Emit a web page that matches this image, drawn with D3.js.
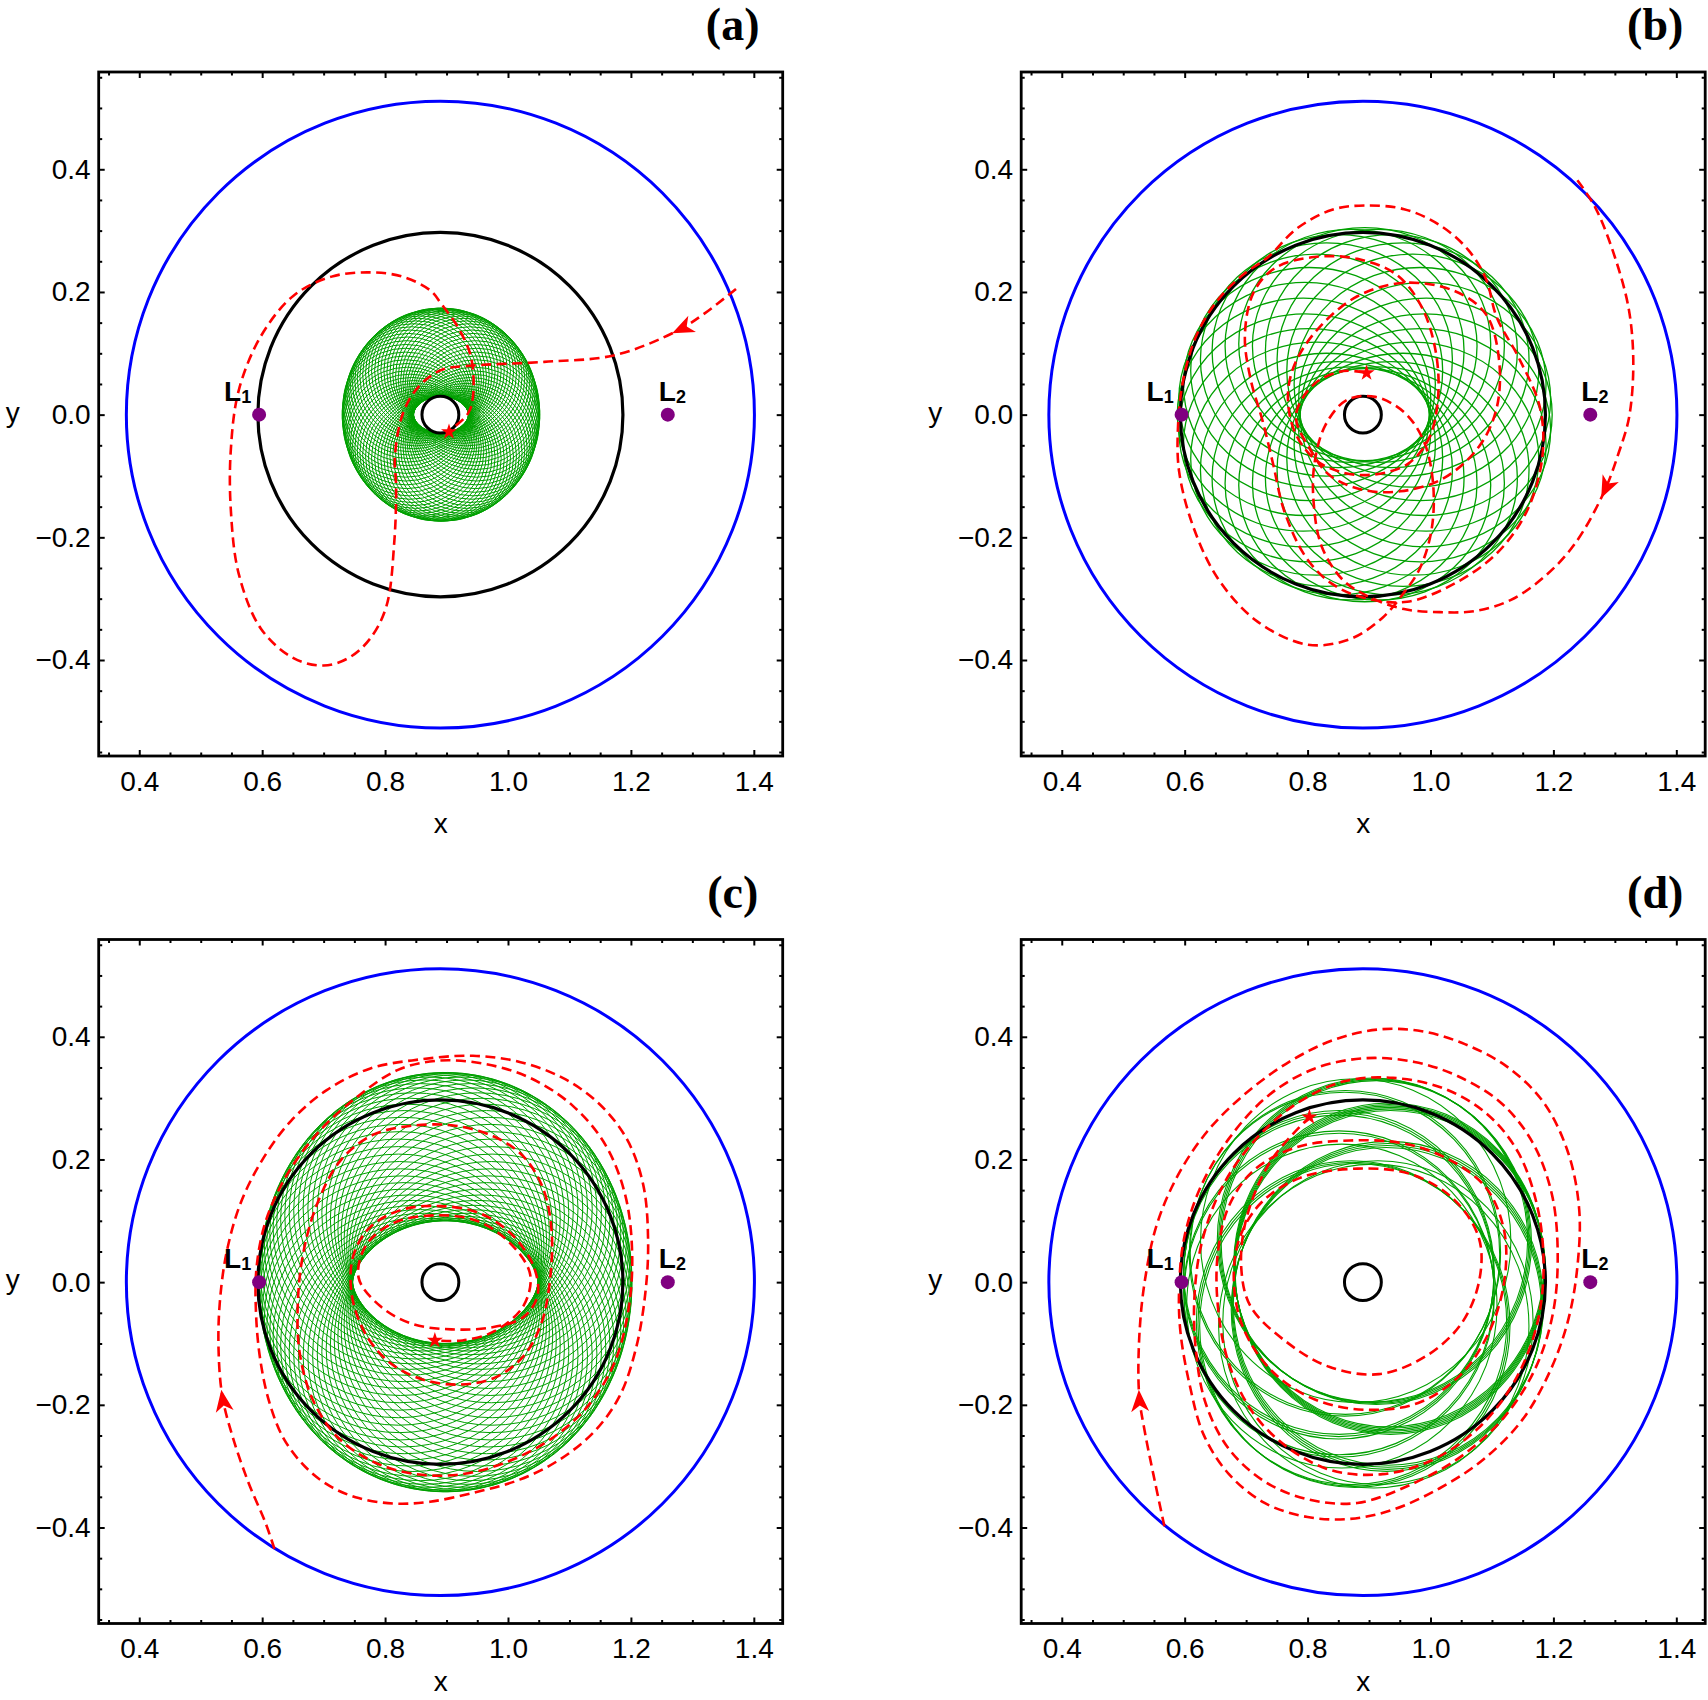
<!DOCTYPE html>
<html>
<head>
<meta charset="utf-8">
<title>Trajectories near L1 and L2</title>
<script src="https://cdn.jsdelivr.net/npm/d3@7"></script>
<style>
  body { margin: 0; background: #fff; }
  text { font-family: "Liberation Sans", Arial, Helvetica, sans-serif; }
</style>
</head>
<body>
<svg id="plot" width="1708" height="1700"></svg>
<script>
// axis ranges and ticks (same for all four panels)
const xRange = [0.334, 1.447];
const yRange = [-0.5565, 0.5586];
const xTicks = [0.4, 0.6, 0.8, 1.0, 1.2, 1.4];
const yTicks = [-0.4, -0.2, 0.0, 0.2, 0.4];
const xMinorTicks = [0.35, 0.45, 0.5, 0.55, 0.65, 0.7, 0.75, 0.85, 0.9, 0.95, 1.05, 1.1, 1.15, 1.25, 1.3, 1.35];
const yMinorTicks = [-0.55, -0.5, -0.45, -0.35, -0.3, -0.25, -0.15, -0.1, -0.05, 0.05, 0.1, 0.15, 0.25, 0.3, 0.35, 0.45, 0.5, 0.55];

// fixed circles [cx, cy, r] and the two Lagrange points
const innerBody = [0.89, 0, 0.03];
const blackCircle = [0.89, 0, 0.297];
const blueCircle = [0.89, 0, 0.511];
const lagrangePoints = [{sub: "1", x: 0.595, y: 0}, {sub: "2", x: 1.26, y: 0}];

const panelLabels = ["(a)", "(b)", "(c)", "(d)"];

// green orbits: loops of size rx/ry whose centres sit on a small ring ox/oy around cx/cy
const greenA = {cx: 0.891, cy: 0.0, rx: 0.103, ry: 0.102, ox: 0.058, oy: 0.072, loops: 72, width: 1.0};
const greenB = {cx: 0.893, cy: 0.0, rx: 0.205, ry: 0.19, ox: 0.1, oy: 0.115, loops: 28, width: 1.3};
const greenC = {cx: 0.898, cy: 0.0, rx: 0.2275, ry: 0.221, ox: 0.0765, oy: 0.121, loops: 62, width: 1.0};
const greenD = {cx: 0.893, cy: -0.002, rx: 0.2525, ry: 0.264, ox: 0.043, oy: 0.074, width: 1.1,
  phases: [64, 67, 70, 73, 110, 137, 140, 14, 16, 18, 20, 22, 24, 166, 169, 172, 192, 195, 210,
           325, 328, 331, 334, 240, 244, 248, 290, 300]};

// red dashed trajectories (x, y), start -> end (star)
const redA = [
  [1.371, 0.205], [1.320, 0.165], [1.276, 0.137], [1.174, 0.097], [1.059, 0.086], [0.944, 0.080],
  [0.892, 0.073], [0.854, 0.045], [0.829, 0.002], [0.816, -0.068], [0.818, -0.119], [0.815, -0.207],
  [0.802, -0.313], [0.775, -0.366], [0.740, -0.397], [0.700, -0.409], [0.651, -0.397], [0.598, -0.349],
  [0.562, -0.260], [0.549, -0.155], [0.549, -0.057], [0.562, 0.040], [0.598, 0.128], [0.651, 0.194],
  [0.713, 0.225], [0.775, 0.232], [0.828, 0.225], [0.873, 0.203], [0.892, 0.180], [0.920, 0.140],
  [0.940, 0.093], [0.943, 0.029], [0.935, 0.002], [0.913, -0.020], [0.904, -0.028]
];
const redB = [
  [1.239, 0.382], [1.268, 0.338], [1.300, 0.257], [1.323, 0.170], [1.330, 0.082], [1.323, -0.005],
  [1.306, -0.063], [1.282, -0.127], [1.236, -0.209], [1.189, -0.261], [1.131, -0.302], [1.073, -0.320],
  [1.015, -0.322], [0.957, -0.317], [0.904, -0.299],
  [0.858, -0.270], [0.823, -0.215], [0.810, -0.145], [0.811, -0.081], [0.829, -0.017], [0.864, 0.024],
  [0.910, 0.029], [0.957, 0.004], [0.989, -0.043], [1.004, -0.110], [1.002, -0.186], [0.983, -0.250],
  [0.957, -0.290],
  [0.922, -0.331], [0.869, -0.366], [0.800, -0.375], [0.718, -0.337], [0.654, -0.267], [0.613, -0.180],
  [0.591, -0.093], [0.589, -0.023], [0.597, 0.053], [0.619, 0.129], [0.654, 0.187], [0.695, 0.228],
  [0.736, 0.257],
  [0.782, 0.303], [0.840, 0.334], [0.893, 0.341], [0.957, 0.335], [1.015, 0.309], [1.061, 0.269],
  [1.090, 0.222], [1.108, 0.158],
  [1.143, 0.094], [1.178, 0.012], [1.182, -0.069], [1.157, -0.157], [1.108, -0.226], [1.038, -0.276],
  [0.962, -0.305], [0.893, -0.299], [0.840, -0.276],
  [0.797, -0.232], [0.762, -0.157], [0.744, -0.081], [0.727, -0.011], [0.707, 0.059], [0.698, 0.129],
  [0.712, 0.199], [0.747, 0.239], [0.811, 0.257], [0.881, 0.254], [0.945, 0.228], [0.986, 0.175],
  [1.009, 0.100], [1.012, 0.024], [0.997, -0.040], [0.962, -0.081], [0.904, -0.098], [0.852, -0.093],
  [0.811, -0.072], [0.779, -0.028], [0.768, 0.030],
  [0.779, 0.082], [0.817, 0.140], [0.881, 0.193], [0.957, 0.215], [1.038, 0.202], [1.090, 0.164],
  [1.111, 0.094], [1.108, 0.012], [1.079, -0.052], [1.021, -0.104], [0.951, -0.125], [0.887, -0.122],
  [0.835, -0.098], [0.805, -0.058], [0.781, -0.002],
  [0.811, 0.050], [0.858, 0.071], [0.896, 0.068]
];
const redC = [
  [0.620, -0.435], [0.606, -0.394], [0.577, -0.325], [0.551, -0.249], [0.535, -0.185], [0.529, -0.109],
  [0.531, -0.034], [0.542, 0.048], [0.565, 0.129], [0.600, 0.199], [0.647, 0.263], [0.705, 0.313],
  [0.775, 0.348], [0.856, 0.363], [0.943, 0.369], [1.019, 0.359], [1.089, 0.333], [1.147, 0.292],
  [1.193, 0.234], [1.220, 0.159], [1.228, 0.065], [1.223, -0.022], [1.208, -0.109], [1.182, -0.185],
  [1.141, -0.243], [1.083, -0.290], [1.019, -0.322], [0.949, -0.342], [0.873, -0.358], [0.815, -0.361],
  [0.757, -0.352], [0.711, -0.333], [0.670, -0.301], [0.635, -0.255], [0.612, -0.197], [0.597, -0.127],
  [0.590, -0.051], [0.591, 0.025], [0.606, 0.100], [0.641, 0.176], [0.693, 0.246], [0.757, 0.304],
  [0.821, 0.346], [0.885, 0.361], [0.961, 0.356], [1.036, 0.333], [1.106, 0.287], [1.159, 0.223],
  [1.191, 0.141], [1.202, 0.048], [1.196, -0.045], [1.173, -0.132], [1.130, -0.202], [1.071, -0.255],
  [1.001, -0.292], [0.926, -0.313], [0.850, -0.313], [0.781, -0.293], [0.722, -0.252], [0.682, -0.191],
  [0.661, -0.115], [0.658, -0.034], [0.667, 0.048], [0.690, 0.129], [0.728, 0.199], [0.780, 0.240],
  [0.844, 0.255], [0.914, 0.255], [0.978, 0.237], [1.025, 0.205], [1.057, 0.153], [1.071, 0.083],
  [1.068, 0.001], [1.054, -0.068], [1.025, -0.121], [0.978, -0.156], [0.920, -0.167], [0.862, -0.159],
  [0.810, -0.133], [0.769, -0.086], [0.746, -0.022], [0.748, 0.042], [0.775, 0.089], [0.827, 0.118],
  [0.891, 0.124], [0.955, 0.112], [1.007, 0.077], [1.042, 0.025], [1.048, -0.022], [1.025, -0.057],
  [0.972, -0.074], [0.908, -0.077], [0.844, -0.068], [0.792, -0.039], [0.757, 0.007], [0.769, 0.060],
  [0.815, 0.097], [0.885, 0.109], [0.949, 0.100], [1.002, 0.065], [1.036, 0.013], [1.025, -0.039],
  [0.978, -0.080], [0.926, -0.095], [0.881, -0.095]
];
const redD = [
  [0.567, -0.398], [0.549, -0.313], [0.535, -0.243], [0.526, -0.185], [0.526, -0.092], [0.535, 0.001],
  [0.555, 0.095], [0.590, 0.176], [0.637, 0.246], [0.695, 0.304], [0.765, 0.356], [0.840, 0.394],
  [0.916, 0.412], [0.986, 0.409], [1.056, 0.388], [1.125, 0.351], [1.184, 0.293], [1.224, 0.211],
  [1.242, 0.118], [1.239, 0.025], [1.224, -0.062], [1.195, -0.144], [1.149, -0.225], [1.085, -0.290],
  [1.015, -0.336], [0.939, -0.371], [0.869, -0.386], [0.800, -0.383], [0.730, -0.360], [0.672, -0.313],
  [0.631, -0.249], [0.608, -0.167], [0.593, -0.080], [0.591, -0.010],
  [0.599, 0.071], [0.625, 0.153], [0.672, 0.234], [0.736, 0.304], [0.811, 0.348], [0.893, 0.365],
  [0.974, 0.359], [1.044, 0.336], [1.114, 0.293], [1.166, 0.228], [1.198, 0.141], [1.207, 0.036],
  [1.198, -0.057], [1.169, -0.144], [1.120, -0.220], [1.050, -0.284], [0.968, -0.330], [0.881, -0.360],
  [0.800, -0.354], [0.730, -0.325], [0.672, -0.272], [0.634, -0.197], [0.618, -0.109], [0.616, -0.022],
  [0.628, 0.065], [0.660, 0.153], [0.707, 0.223], [0.776, 0.287], [0.858, 0.327], [0.939, 0.333],
  [1.021, 0.316], [1.091, 0.275], [1.143, 0.211], [1.175, 0.118], [1.184, 0.019], [1.172, -0.074],
  [1.137, -0.161], [1.079, -0.237], [1.003, -0.290], [0.922, -0.313], [0.840, -0.307], [0.771, -0.272],
  [0.712, -0.214], [0.672, -0.133], [0.654, -0.039], [0.654, 0.048],
  [0.672, 0.124], [0.712, 0.182], [0.782, 0.220], [0.869, 0.231], [0.957, 0.226], [1.032, 0.199],
  [1.091, 0.153], [1.120, 0.083], [1.120, 0.001], [1.096, -0.080], [1.050, -0.150], [0.980, -0.197],
  [0.893, -0.208], [0.811, -0.191], [0.741, -0.144], [0.695, -0.074], [0.680, 0.001],
  [0.689, 0.071], [0.724, 0.129], [0.788, 0.170], [0.881, 0.185], [0.968, 0.176], [1.038, 0.135],
  [1.079, 0.071], [1.079, 0.001], [1.050, -0.068], [0.992, -0.121], [0.916, -0.150], [0.835, -0.138],
  [0.765, -0.097], [0.707, -0.039], [0.692, 0.025],
  [0.701, 0.106], [0.741, 0.199], [0.803, 0.269]
];

// index of the point where the direction arrow sits on each trajectory
const arrowIndex = [2, 7, 4, 3];

const panels = [
  {label: panelLabels[0], green: greenA, red: redA, arrow: arrowIndex[0]},
  {label: panelLabels[1], green: greenB, red: redB, arrow: arrowIndex[1]},
  {label: panelLabels[2], green: greenC, red: redC, arrow: arrowIndex[2]},
  {label: panelLabels[3], green: greenD, red: redD, arrow: arrowIndex[3]}
];

const W = 1708, H = 1700;
const size = 684;
const origins = [[98.7, 72], [1021.2, 72], [98.7, 939.5], [1021.2, 939.5]];
const fmt = d3.format(".1f");

const svg = d3.select("#plot");

function greenLoops(spec) {
  const phases = spec.phases || d3.range(spec.loops).map(k => 360 * k / spec.loops);
  return phases.map(p => {
    const a = p * Math.PI / 180;
    return {cx: spec.cx + spec.ox * Math.cos(a), cy: spec.cy + spec.oy * Math.sin(a), rx: spec.rx, ry: spec.ry};
  });
}

function circle(g, x, y, c, color, width, fill) {
  g.append("ellipse")
    .attr("cx", x(c[0])).attr("cy", y(c[1]))
    .attr("rx", x(c[0] + c[2]) - x(c[0]))
    .attr("ry", y(c[1]) - y(c[1] + c[2]))
    .attr("fill", fill || "none")
    .attr("stroke", color)
    .attr("stroke-width", width);
}

panels.forEach((p, i) => {
  const [ox, oy] = origins[i];
  const g = svg.append("g").attr("transform", `translate(${ox},${oy})`);

  const x = d3.scaleLinear().domain(xRange).range([0, size]);
  const y = d3.scaleLinear().domain(yRange).range([size, 0]);

  const clipId = "clip" + i;
  g.append("clipPath").attr("id", clipId)
    .append("rect").attr("width", size).attr("height", size);
  const inner = g.append("g").attr("clip-path", `url(#${clipId})`);

  // blue boundary
  circle(inner, x, y, blueCircle, "#0000ff", 3);

  // green orbit loops
  inner.append("g")
    .selectAll("ellipse")
    .data(greenLoops(p.green))
    .join("ellipse")
      .attr("cx", d => x(d.cx))
      .attr("cy", d => y(d.cy))
      .attr("rx", d => x(d.cx + d.rx) - x(d.cx))
      .attr("ry", d => y(d.cy) - y(d.cy + d.ry))
      .attr("fill", "none")
      .attr("stroke", "#00a000")
      .attr("stroke-width", p.green.width);

  // black circles
  circle(inner, x, y, blackCircle, "#000", 3.2);
  circle(inner, x, y, innerBody, "#000", 3, i === 0 ? "#fff" : "none");

  // red trajectory
  const line = d3.line()
    .x(d => x(d[0])).y(d => y(d[1]))
    .curve(d3.curveCatmullRom.alpha(0.5));
  inner.append("path")
    .datum(p.red)
    .attr("d", line)
    .attr("fill", "none")
    .attr("stroke", "#ff0000")
    .attr("stroke-width", 2.6)
    .attr("stroke-dasharray", "10,5.5");

  // arrow head
  const k = p.arrow;
  const a0 = p.red[k - 1], a1 = p.red[k + 1];
  const ang = Math.atan2(y(a1[1]) - y(a0[1]), x(a1[0]) - x(a0[0])) * 180 / Math.PI;
  inner.append("path")
    .attr("d", "M6,0 L-16,-9 L-10,0 L-16,9 Z")
    .attr("fill", "#ff0000")
    .attr("transform", `translate(${x(p.red[k][0])},${y(p.red[k][1])}) rotate(${ang})`);

  // end star
  const last = p.red[p.red.length - 1];
  inner.append("path")
    .attr("d", d3.symbol(d3.symbolStar, 80)())
    .attr("fill", "#ff0000")
    .attr("transform", `translate(${x(last[0])},${y(last[1])})`);

  // Lagrange points
  lagrangePoints.forEach(L => {
    g.append("circle")
      .attr("cx", x(L.x)).attr("cy", y(L.y)).attr("r", 7)
      .attr("fill", "#800080");
    const t = g.append("text")
      .attr("x", x(L.x) + (L.sub === "1" ? -35 : -9))
      .attr("y", y(L.y) - 14)
      .attr("font-weight", "bold")
      .attr("font-size", 28);
    t.append("tspan").text("L");
    t.append("tspan").attr("font-size", 18).attr("dy", 2).text(L.sub);
  });

  // ticks on all four sides, pointing inwards
  function styleAxis(sel) {
    sel.select(".domain").remove();
    sel.selectAll(".tick line").attr("stroke-width", 2);
    sel.attr("font-size", 28).attr("font-family", '"Liberation Sans", Arial, sans-serif');
  }
  g.append("g").attr("transform", `translate(0,${size})`)
    .call(d3.axisBottom(x).tickValues(xTicks).tickSizeInner(-6).tickSizeOuter(0).tickPadding(15).tickFormat(fmt))
    .call(styleAxis);
  g.append("g").attr("transform", `translate(0,${size})`)
    .call(d3.axisBottom(x).tickValues(xMinorTicks).tickSizeInner(-3.5).tickSizeOuter(0).tickFormat(""))
    .call(styleAxis);
  g.append("g")
    .call(d3.axisTop(x).tickValues(xTicks).tickSizeInner(-6).tickSizeOuter(0).tickFormat(""))
    .call(styleAxis);
  g.append("g")
    .call(d3.axisTop(x).tickValues(xMinorTicks).tickSizeInner(-3.5).tickSizeOuter(0).tickFormat(""))
    .call(styleAxis);
  g.append("g")
    .call(d3.axisLeft(y).tickValues(yTicks).tickSizeInner(-6).tickSizeOuter(0).tickPadding(8).tickFormat(fmt))
    .call(styleAxis);
  g.append("g")
    .call(d3.axisLeft(y).tickValues(yMinorTicks).tickSizeInner(-3.5).tickSizeOuter(0).tickFormat(""))
    .call(styleAxis);
  g.append("g").attr("transform", `translate(${size},0)`)
    .call(d3.axisRight(y).tickValues(yTicks).tickSizeInner(-6).tickSizeOuter(0).tickFormat(""))
    .call(styleAxis);
  g.append("g").attr("transform", `translate(${size},0)`)
    .call(d3.axisRight(y).tickValues(yMinorTicks).tickSizeInner(-3.5).tickSizeOuter(0).tickFormat(""))
    .call(styleAxis);

  // frame
  g.append("rect")
    .attr("width", size).attr("height", size)
    .attr("fill", "none").attr("stroke", "#000").attr("stroke-width", 2.8);

  // axis titles (kept inside the page on the bottom row)
  g.append("text")
    .attr("x", size / 2).attr("y", Math.min(size + 77, H - oy - 9))
    .attr("text-anchor", "middle").attr("font-size", 28)
    .text("x");
  g.append("text")
    .attr("x", -86).attr("y", y(0) + 7)
    .attr("text-anchor", "middle").attr("font-size", 28)
    .text("y");

  // panel label
  g.append("text")
    .attr("x", 634).attr("y", -32)
    .attr("text-anchor", "middle")
    .attr("font-size", 46).attr("font-weight", "bold")
    .style("font-family", '"Liberation Serif", "DejaVu Serif", serif')
    .text(p.label);
});
</script>
</body>
</html>
